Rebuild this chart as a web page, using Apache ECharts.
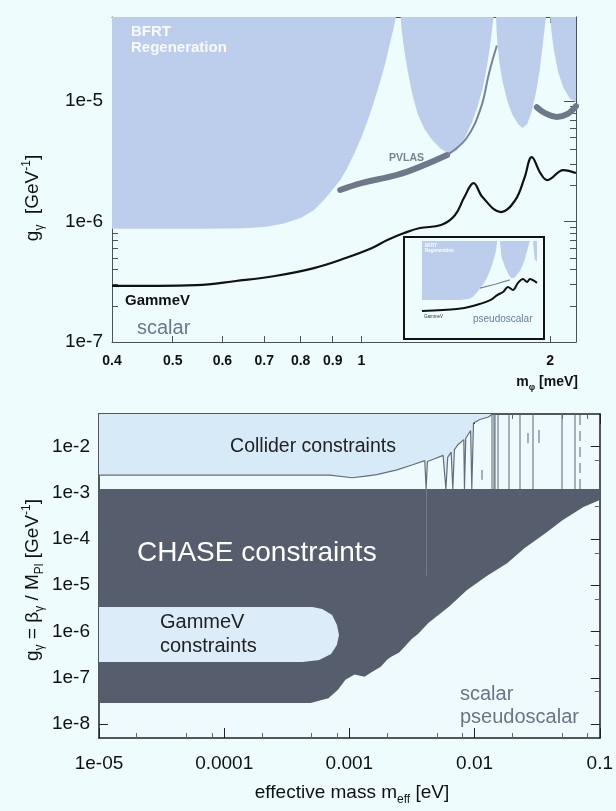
<!DOCTYPE html>
<html><head><meta charset="utf-8">
<script src="https://cdn.jsdelivr.net/npm/echarts@6/dist/echarts.min.js"></script>
<style>html,body{margin:0;padding:0;background:#eefcfe;}#c{width:616px;height:811px;}</style>
</head><body><div id="c"></div>
<script>
// ---------- TOP PANEL (scalar, GammeV) ----------
const topXTicks = [0.4, 0.5, 0.6, 0.7, 0.8, 0.9, 1, 2];
const topYMajor = [1e-7, 1e-6, 1e-5];
const bfrtM = [0.40, 0.55, 0.65, 0.70, 0.75, 0.80, 0.84, 0.87, 0.90, 0.925, 0.946, 0.97, 1.00, 1.02, 1.045, 1.07, 1.09, 1.11, 1.125, 1.135,
  1.155, 1.16, 1.17, 1.185, 1.205, 1.23, 1.26, 1.30, 1.34, 1.38, 1.42, 1.46, 1.50, 1.53, 1.56, 1.585, 1.60, 1.615, 1.625,
  1.64, 1.645, 1.66, 1.68, 1.71, 1.74, 1.78, 1.81, 1.84, 1.87, 1.90, 1.925, 1.945, 1.96, 1.97,
  2.00, 2.01, 2.03, 2.06, 2.10, 2.15, 2.20];
const bfrtG = [8.7e-7, 8.7e-7, 8.8e-7, 9.0e-7, 9.6e-7, 1.07e-6, 1.25e-6, 1.5e-6, 1.85e-6, 2.2e-6, 2.7e-6, 3.5e-6, 5.0e-6, 6.6e-6, 9.5e-6, 1.42e-5, 2.0e-5, 3.0e-5, 4.0e-5, 5e-5,
  5e-5, 3.8e-5, 2.7e-5, 1.8e-5, 1.15e-5, 7.8e-6, 5.9e-6, 4.7e-6, 4.0e-6, 3.65e-6, 3.9e-6, 4.9e-6, 6.6e-6, 8.8e-6, 1.25e-5, 1.9e-5, 2.6e-5, 3.8e-5, 5e-5,
  5e-5, 3.5e-5, 2.1e-5, 1.45e-5, 1.0e-5, 7.8e-6, 6.4e-6, 6.0e-6, 6.5e-6, 8.2e-6, 1.2e-5, 1.8e-5, 2.8e-5, 4e-5, 5e-5,
  5e-5, 3.8e-5, 2.6e-5, 1.75e-5, 1.3e-5, 1.05e-5, 9.8e-6];
const pvlasM = [0.925, 1.0, 1.14, 1.25, 1.37];
const pvlasG = [1.83e-6, 2.09e-6, 2.44e-6, 2.9e-6, 3.57e-6];
const pvlasThinM = [1.37, 1.47, 1.55, 1.60, 1.645];
const pvlasThinG = [3.57e-6, 4.9e-6, 8.7e-6, 1.75e-5, 2.9e-5];
const pvlas2M = [1.905, 1.96, 2.05, 2.13, 2.2];
const pvlas2G = [8.9e-6, 8.0e-6, 7.4e-6, 7.8e-6, 9.1e-6];
const gammevM = [0.4, 0.545, 0.631, 0.728, 0.84, 0.944, 1.04, 1.10, 1.17, 1.24, 1.34, 1.41, 1.46, 1.51, 1.56, 1.67, 1.76, 1.82, 1.87, 1.93, 1.98, 2.10, 2.2];
const gammevG = [2.92e-7, 2.97e-7, 3.21e-7, 3.53e-7, 4.11e-7, 4.98e-7, 6.03e-7, 7.03e-7, 8.03e-7, 8.84e-7, 9.36e-7, 1.13e-6, 1.6e-6, 2.09e-6, 1.6e-6, 1.2e-6, 1.51e-6, 2.3e-6, 3.43e-6, 2.53e-6, 2.21e-6, 2.68e-6, 2.53e-6];
// inset (pseudoscalar)
const insetBfrtM = [0.4, 0.7, 0.8, 0.85, 0.9, 0.95, 1.0, 1.05, 1.1, 1.15, 1.2, 1.22, 1.27, 1.3, 1.37, 1.45, 1.5, 1.58, 1.71, 1.82, 1.9, 1.98, 2.07, 2.13, 2.2];
const insetBfrtG = [7.7e-7, 7.8e-7, 8.3e-7, 9.5e-7, 1.3e-6, 1.8e-6, 2.5e-6, 3.8e-6, 6.5e-6, 1.2e-5, 2.6e-5, 5e-5, 5e-5, 1.6e-5, 8e-6, 4.5e-6, 3.6e-6, 3.8e-6, 6e-6, 1.2e-5, 2.5e-5, 5e-5, 5e-5, 1.3e-5, 1.2e-5];
const insetPvM = [0.944, 1.2, 1.47];
const insetPvG = [1.8e-6, 2.4e-6, 3.2e-6];
const insetGvM = [0.4, 0.67, 0.85, 1.10, 1.22, 1.33, 1.43, 1.54, 1.66, 1.79, 1.90, 1.98, 2.2];
const insetGvG = [3.56e-7, 4.1e-7, 5.1e-7, 7.7e-7, 1.1e-6, 1.36e-6, 1.94e-6, 1.57e-6, 2.6e-6, 3.4e-6, 2.76e-6, 3.4e-6, 2.6e-6];

// ---------- BOTTOM PANEL (CHASE) ----------
const botXMajor = [1e-5, 1e-4, 1e-3, 1e-2, 1e-1];
const botXLabels = ['1e-05', '0.0001', '0.001', '0.01', '0.1'];
const botYMajor = [1e-8, 1e-7, 1e-6, 1e-5, 1e-4, 1e-3, 1e-2];
const colliderX = [1e-5, 7e-4, 1.05e-3, 1.3e-3, 1.65e-3, 2.4e-3, 3.2e-3, 4.0e-3, 4.1e-3, 4.2e-3, 4.8e-3, 5.6e-3, 5.9e-3, 6.1e-3, 6.5e-3, 6.7e-3, 6.9e-3, 7.4e-3, 8.2e-3, 8.3e-3, 8.5e-3, 9.3e-3, 9.5e-3, 9.8e-3, 1.1e-2, 1.29e-2, 1.39e-2];
const colliderY = [2.4e-3, 2.4e-3, 2.1e-3, 2.25e-3, 2.45e-3, 3.1e-3, 4.0e-3, 4.9e-3, 1.2e-3, 4.7e-3, 5.4e-3, 6.4e-3, 1.2e-3, 5.8e-3, 7.5e-3, 1.2e-3, 8.5e-3, 1.1e-2, 1.4e-2, 1.2e-3, 1.5e-2, 2.2e-2, 1.2e-3, 3.2e-2, 3.8e-2, 4.3e-2, 5e-2];
const chaseTop = 1.2e-3;
const chaseLowX = [1e-5, 4.9e-4, 6.8e-4, 8.1e-4, 9.3e-4, 1.1e-3, 1.32e-3, 1.48e-3, 1.78e-3, 2.0e-3, 2.14e-3, 2.5e-3, 3.16e-3, 3.55e-3, 4.27e-3, 6.3e-3, 8.7e-3, 1.26e-2, 1.82e-2, 2.5e-2, 3.7e-2, 5e-2, 7.4e-2, 0.1];
const chaseLowY = [2.86e-8, 2.86e-8, 3.6e-8, 5.5e-8, 9.1e-8, 1.17e-7, 1.05e-7, 1.29e-7, 1.74e-7, 2.45e-7, 2.8e-7, 3.5e-7, 7e-7, 8.9e-7, 1.53e-6, 3.5e-6, 7.9e-6, 1.6e-5, 3e-5, 6.3e-5, 1.35e-4, 2.5e-4, 4.9e-4, 6.9e-4];
const pillX = [1e-5, 5.06e-4, 6.07e-4, 7.28e-4, 7.96e-4, 8.26e-4, 7.94e-4, 7.14e-4, 5.74e-4, 4.22e-4, 1e-5];
const pillY = [3.4e-6, 3.4e-6, 3.07e-6, 2.28e-6, 1.39e-6, 8.4e-7, 5.1e-7, 3.27e-7, 2.43e-7, 2.2e-7, 2.2e-7];
const resonanceX = [0.0136, 0.0141, 0.0146, 0.0152, 0.0187, 0.0229, 0.029, 0.050, 0.063];
const resonanceDashedX = [0.0695];
const shortDashX = [0.0115, 0.0265, 0.0324];
const shortDashLo = [1.9e-3, 1.17e-2, 1.18e-2];
const shortDashHi = [3.1e-3, 1.95e-2, 2.25e-2];
const chaseStreakX = 4.1e-3, chaseStreakLo = 1.6e-5;

// ---------- build ----------
const L = Math.log10;
const FONT = '"Liberation Sans", Arial, sans-serif';
const pts = (xs, ys) => xs.map((x, i) => [L(x), L(ys[i])]);
const minorsBetween = (lo, hi, ks) => {
  const out = [];
  for (let n = -10; n <= 2; n++) for (const k of ks) {
    const v = L(k) + n;
    if (v > lo + 1e-6 && v < hi - 1e-6) out.push(v);
  }
  return out;
};
const TOPX = [L(0.4), L(2.2)], TOPY = [-7, L(5e-5)];
const BOTX = [-5, -1], BOTY = [L(5e-9), L(5e-2)];
const topMinY = minorsBetween(TOPY[0], TOPY[1], [2,3,4,5,6,7,8,9]);
const botMinX = minorsBetween(BOTX[0], BOTX[1], [2,5,8]);
const botMinY = minorsBetween(BOTY[0], BOTY[1], [5]);

function ax(o) {
  const base = {
    type: 'value', splitLine: {show: false},
    axisLine: {show: o.line !== false, onZero: false, lineStyle: {color: o.col || '#4b5060', width: o.lw || 1}},
    axisTick: {show: !!o.ticks, inside: true, length: o.len || 6, customValues: o.ticks, lineStyle: {color: o.col || '#4b5060', width: 1}},
    axisLabel: o.labels ? Object.assign({customValues: o.labels, color: '#111', fontFamily: FONT}, o.lab) : {show: false}
  };
  return Object.assign(base, {gridIndex: o.g, position: o.pos, min: o.min, max: o.max});
}
const topXT = topXTicks.map(L);
const xAxis = [
  ax({g:0, pos:'bottom', min:TOPX[0], max:TOPX[1], ticks:topXT, len:6, labels:topXT,
      lab:{fontWeight:'bold', fontSize:14, margin:12, formatter: v => String(Math.round(Math.pow(10, v) * 10) / 10)}}),
  ax({g:0, pos:'top', min:TOPX[0], max:TOPX[1], ticks:topXT, len:6}),
  ax({g:1, pos:'bottom', min:BOTX[0], max:BOTX[1], ticks:botXMajor.map(L), len:10, col:'#222', lw:1.5, labels:botXMajor.map(L),
      lab:{fontSize:19, margin:16, formatter: v => botXLabels[Math.round(v) + 5]}}),
  ax({g:1, pos:'bottom', min:BOTX[0], max:BOTX[1], ticks:botMinX, len:5, line:false, col:'#666'}),
  ax({g:1, pos:'top', min:BOTX[0], max:BOTX[1], ticks:botXMajor.map(L), len:10, col:'#222', lw:1.5}),
  ax({g:1, pos:'top', min:BOTX[0], max:BOTX[1], ticks:botMinX, len:5, line:false, col:'#666'}),
  ax({g:2, pos:'bottom', min:TOPX[0], max:TOPX[1], ticks:topXT, len:1.5, line:false, col:'#999', labels:topXT,
      lab:{fontSize:4, margin:2, color:'#555', formatter: v => String(Math.round(Math.pow(10, v) * 10) / 10)}})
];
const topYT = topYMajor.map(L);
const yAxis = [
  ax({g:0, pos:'left', min:TOPY[0], max:TOPY[1], ticks:topYT, len:12, labels:topYT,
      lab:{fontSize:19, margin:9, formatter: v => '1e' + Math.round(v)}}),
  ax({g:0, pos:'left', min:TOPY[0], max:TOPY[1], ticks:topMinY, len:6, line:false}),
  ax({g:0, pos:'right', min:TOPY[0], max:TOPY[1], ticks:topYT, len:12}),
  ax({g:0, pos:'right', min:TOPY[0], max:TOPY[1], ticks:topMinY, len:6, line:false}),
  ax({g:1, pos:'left', min:BOTY[0], max:BOTY[1], ticks:botYMajor.map(L), len:9, col:'#222', lw:1.5, labels:botYMajor.map(L),
      lab:{fontSize:19, margin:9, formatter: v => '1e' + Math.round(v)}}),
  ax({g:1, pos:'left', min:BOTY[0], max:BOTY[1], ticks:botMinY, len:5, line:false, col:'#666'}),
  ax({g:1, pos:'right', min:BOTY[0], max:BOTY[1], ticks:botYMajor.map(L), len:9, col:'#222', lw:1.5}),
  ax({g:1, pos:'right', min:BOTY[0], max:BOTY[1], ticks:botMinY, len:5, line:false, col:'#666'}),
  ax({g:2, pos:'left', min:TOPY[0], max:TOPY[1], ticks:topYT, len:1.5, line:false, col:'#999', labels:topYT,
      lab:{fontSize:4, margin:2, color:'#555', formatter: v => '10' + Math.round(v)}})
];

const lineS = (xi, yi, data, style, extra) => Object.assign({
  type: 'line', xAxisIndex: xi, yAxisIndex: yi, data, symbol: 'none', silent: true,
  lineStyle: style, animation: false
}, extra || {});
const polyS = (xi, yi, xs, ys, fill, z) => ({
  type: 'custom', xAxisIndex: xi, yAxisIndex: yi, z, silent: true, animation: false,
  data: [[L(xs[0]), L(ys[0])]],
  renderItem: (p, api) => ({type: 'polygon', shape: {points: xs.map((x, i) => api.coord([L(x), L(ys[i])]))}, style: {fill}})
});
const vLines = (xs, lo, hi, style, z) => ({
  type: 'lines', coordinateSystem: 'cartesian2d', xAxisIndex: 2, yAxisIndex: 4, z, silent: true, animation: false,
  lineStyle: style,
  data: xs.map((x, i) => ({coords: [[L(x), L(Array.isArray(lo) ? lo[i] : lo)], [L(x), L(Array.isArray(hi) ? hi[i] : hi)]]}))
});

const series = [
  // top panel
  lineS(0, 0, pts(bfrtM, bfrtG), {width: 0}, {areaStyle: {color: '#bdcdec', opacity: 1, origin: 'end'}, z: 2}),
  lineS(0, 0, pts(pvlasM, pvlasG), {width: 6, color: '#6f788a', cap: 'round'}, {z: 3, smooth: 0.4}),
  lineS(0, 0, pts(pvlasThinM, pvlasThinG), {width: 2, color: '#7a8396'}, {z: 3, smooth: 0.4}),
  lineS(0, 0, pts(pvlas2M, pvlas2G), {width: 6, color: '#6f788a', cap: 'round'}, {z: 3, smooth: 0.4}),
  lineS(0, 0, pts(gammevM, gammevG), {width: 2.2, color: '#111'}, {z: 4, smooth: 0.4}),
  // inset
  lineS(6, 8, pts(insetBfrtM, insetBfrtG), {width: 0}, {areaStyle: {color: '#bdcdec', opacity: 1, origin: 'end'}, z: 6}),
  lineS(6, 8, pts(insetPvM, insetPvG), {width: 1.2, color: '#7a8396'}, {z: 7}),
  lineS(6, 8, pts(insetGvM, insetGvG), {width: 2, color: '#111'}, {z: 8, smooth: 0.3}),
  // bottom panel
  lineS(2, 4, pts(colliderX, colliderY), {width: 1.2, color: '#656d7d'}, {areaStyle: {color: '#d7eaf7', opacity: 1, origin: 'end'}, z: 2}),
  polyS(2, 4, chaseLowX.concat([0.1, 1e-5]), chaseLowY.concat([chaseTop, chaseTop]), '#565e6d', 3),
  polyS(2, 4, pillX, pillY, '#dcecf9', 4),
  vLines(resonanceX, chaseTop, 5e-2, {color: '#5c6474', width: 2}, 5),
  vLines(resonanceDashedX, chaseTop, 5e-2, {color: '#5c6474', width: 2, type: [10, 6]}, 5),
  vLines(shortDashX, shortDashLo, shortDashHi, {color: '#5c6474', width: 2}, 5),
  vLines([chaseStreakX], chaseTop, chaseStreakLo, {color: '#8d96a6', width: 1}, 5)
];

const T = (x, y, text, st, extra) => Object.assign({
  type: 'text', x, y, z: 100, silent: true,
  style: Object.assign({text, fontFamily: FONT, align: 'left', verticalAlign: 'middle', textAlign: 'left', textVerticalAlign: 'middle'}, st)
}, extra || {});
// main text centred in the line, subscripts pushed to the line bottom, superscripts to its top
const rich = (size, col, bold) => {
  const w = bold ? 'bold' : 'normal', small = Math.round(size * 0.65);
  return {
    a: {fontSize: size, fontFamily: FONT, fontWeight: w, fill: col, lineHeight: size + 6, verticalAlign: 'middle'},
    s: {fontSize: small, fontFamily: FONT, fontWeight: w, fill: col, verticalAlign: 'bottom'},
    p: {fontSize: small, fontFamily: FONT, fontWeight: w, fill: col, verticalAlign: 'top'}
  };
};
const graphic = [
  {type: 'rect', z: 1, silent: true, shape: {x: 404, y: 237, width: 140, height: 102}, style: {fill: '#eefcfe', stroke: '#111', lineWidth: 2}},
  T(131, 32, 'BFRT', {fontSize: 15, fontWeight: 'bold', fill: 'rgba(255,255,255,0.9)'}),
  T(131, 48, 'Regeneration', {fontSize: 15, fontWeight: 'bold', fill: 'rgba(255,255,255,0.9)'}),
  T(389, 158, 'PVLAS', {fontSize: 10.5, fontWeight: 'bold', fill: '#7a8296'}),
  T(125, 301, 'GammeV', {fontSize: 15, fontWeight: 'bold', fill: '#111'}),
  T(137, 328, 'scalar', {fontSize: 20, fill: '#6c7690'}),
  T(425, 246, 'BFRT', {fontSize: 4.5, fontWeight: 'bold', fill: '#fff'}),
  T(425, 251, 'Regeneration', {fontSize: 4.5, fontWeight: 'bold', fill: '#fff'}),
  T(424, 317, 'GammeV', {fontSize: 4.5, fill: '#333'}),
  T(473, 319, 'pseudoscalar', {fontSize: 10, fill: '#6b7ba5'}),
  T(578, 382, '{a|m}{s|φ}{a| [meV]}', {rich: rich(14, '#111', true), align: 'right', textAlign: 'right'}),
  T(33, 198, '{a|g}{s|γ}{a|  [GeV}{p|-1}{a|]}', {rich: rich(19, '#111'), align: 'center', textAlign: 'center'}, {rotation: Math.PI / 2}),
  T(33, 580, '{a|g}{s|γ}{a| = β}{s|γ}{a| / M}{s|Pl}{a| [GeV}{p|-1}{a|]}', {rich: rich(19, '#111'), align: 'center', textAlign: 'center'}, {rotation: Math.PI / 2}),
  T(352, 793, '{a|effective mass m}{s|eff}{a| [eV]}', {rich: rich(19, '#111'), align: 'center', textAlign: 'center'}),
  T(313, 447, 'Collider constraints', {fontSize: 19.5, fill: '#222', align: 'center', textAlign: 'center'}),
  T(137, 553, 'CHASE constraints', {fontSize: 28, fill: '#ffffff'}),
  T(160, 622, 'GammeV', {fontSize: 20, fill: '#222'}),
  T(160, 646, 'constraints', {fontSize: 20, fill: '#222'}),
  T(460, 694, 'scalar', {fontSize: 20, fill: '#6a7488'}),
  T(460, 717, 'pseudoscalar', {fontSize: 20, fill: '#6a7488'})
];

const chart = echarts.init(document.getElementById('c'), null, {renderer: 'canvas'});
chart.setOption({
  backgroundColor: '#eefcfe',
  animation: false,
  grid: [
    {left: 112, top: 17, width: 464, height: 325, containLabel: false},
    {left: 99, top: 414, width: 507, height: 324, containLabel: false, show: true, backgroundColor: '#eefafd', borderWidth: 0},
    {left: 422, top: 241, width: 115, height: 88, containLabel: false}
  ],
  xAxis, yAxis, series, graphic
});
</script></body></html>
